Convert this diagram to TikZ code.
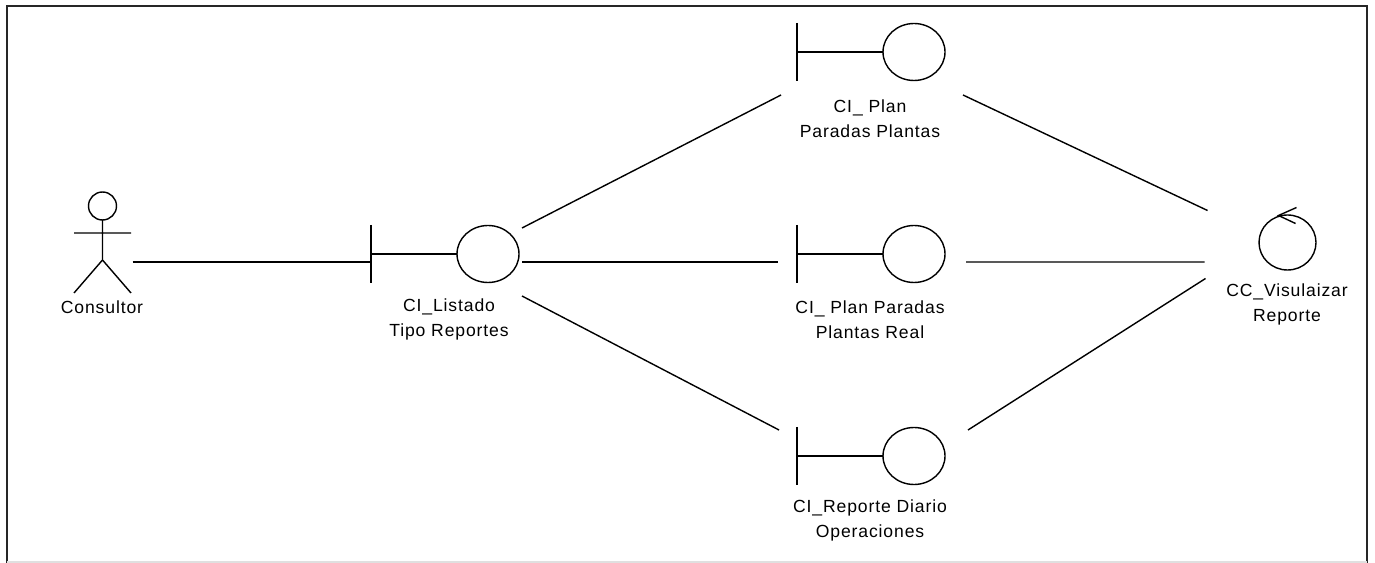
\documentclass[tikz,border=0pt]{standalone}
\usepackage{fontspec}
\setmainfont{Liberation Sans}[LetterSpace=5]
\usetikzlibrary{calc}
\tikzset{
  ln/.style={line width=0.8pt, black},
  lbl/.style={align=center, inner sep=0pt, font=\fontsize{10}{14.2}\selectfont},
  boundary/.pic={
    \draw[ln] (-117,-29) -- (-117,29) (-117,0) -- (-31,0);
    \draw[ln] (0,0) ellipse[x radius=31, y radius=28.5];
  },
  control/.pic={
    \draw[ln] (0,0) ellipse[x radius=28.5, y radius=27.5];
    \draw[ln] (9,-35) -- (-9,-27) -- (8,-19);
  }
}
\begin{document}
\begin{tikzpicture}[x=0.02cm, y=-0.02cm]
\useasboundingbox (0,0) rectangle (1375,563);
% frame
\draw[line width=1.4pt, black!85] (7,563) -- (7,6) -- (1367,6) -- (1367,563);
\draw[line width=0.6pt, black!12] (7,562) -- (1367,562);

% actor
\coordinate (act) at (102.5,206);
\draw[ln] (act) circle[radius=14];
\draw[ln] ($(act)+(0,14)$) -- ($(act)+(0,54)$)
  ($(act)+(-28.5,27)$) -- ($(act)+(28.5,27)$)
  ($(act)+(-28.5,87)$) -- ($(act)+(0,54)$) -- ($(act)+(28.5,87)$);
\node[lbl] (actL) at (102,307) {Consultor};

% boundaries
\coordinate (lst) at (488,254);
\coordinate (top) at (914,52);
\coordinate (mid) at (914,254);
\coordinate (bot) at (914,456);
\coordinate (cc) at (1287.5,242.5);
\pic at (lst) {boundary};
\pic at (top) {boundary};
\pic at (mid) {boundary};
\pic at (bot) {boundary};
\pic at (cc) {control};

\node[lbl] (lstL) at (449,319.5) {CI\_Listado\\Tipo Reportes};
\node[lbl] (topL) at (870,118.5) {CI\_ Plan\\Paradas Plantas};
\node[lbl] (midL) at (870,319.5) {CI\_ Plan Paradas\\Plantas Real};
\node[lbl] (botL) at (870,520.5) {CI\_Reporte Diario\\Operaciones};
\node[lbl] (ccL) at (1287,304) {CC\_Visulaizar\\Reporte};

% connectors
\draw[ln] ($(act)+(30,56)$) -- ($(lst)+(-116,8)$);
\draw[ln] ($(lst)+(34,-26)$) -- ($(top)+(-133,43)$);
\draw[ln] ($(lst)+(34,8)$) -- ($(mid)+(-136,8)$);
\draw[ln] ($(lst)+(34,42)$) -- ($(bot)+(-135,-26)$);
\draw[ln] ($(top)+(49,43)$) -- ($(cc)+(-80,-32)$);
\draw[ln] ($(mid)+(52,8)$) -- ($(cc)+(-83,19.5)$);
\draw[ln] ($(bot)+(54,-26)$) -- ($(cc)+(-82,36)$);
\end{tikzpicture}
\end{document}
